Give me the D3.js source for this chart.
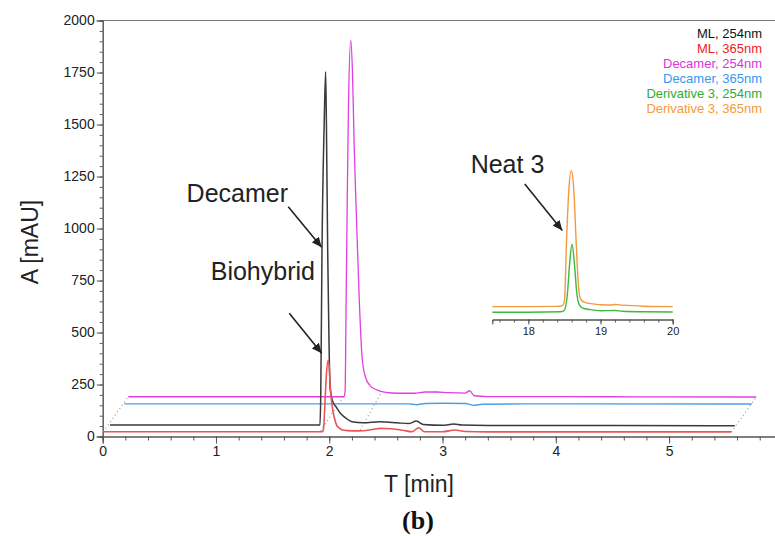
<!DOCTYPE html>
<html>
<head>
<meta charset="utf-8">
<script src="https://cdn.jsdelivr.net/npm/d3@7"></script>
<style>
body { margin: 0; background: #fff; }
svg { display: block; font-family: "Liberation Sans", Arial, sans-serif; }
</style>
</head>
<body>
<div id="chart"></div>
<script>
// traces: [time (min), absorbance (mAU)] as drawn in the waterfall plot
var ml254 = [[0.064,55],[1.918,55],[1.925,200],[1.936,900],[1.955,1500],[1.968,1754],[1.975,1500],[1.986,900],
    [1.998,450],[2.008,230],[2.03,170],[2.06,143],[2.1,111],[2.15,87],[2.2,71],[2.3,66],[2.45,71],[2.6,66],
    [2.7,62],[2.77,74],[2.83,58],[3.0,54],[3.1,60],[3.17,55],[3.4,53],[4.5,53],[5.58,52]];
var ml365 = [[0.005,23],[1.94,23],[1.95,40],[1.962,160],[1.975,300],[1.991,368],[2.0,330],[2.01,230],
    [2.025,150],[2.045,90],[2.065,55],[2.09,40],[2.12,31],[2.2,27],[2.3,28],[2.38,34],[2.45,39],[2.55,37],
    [2.65,30],[2.73,23],[2.79,42],[2.84,23],[3.0,23],[3.11,31],[3.2,24],[3.4,22],[4.5,22],[5.55,22]];
var dec254 = [[0.226,191],[2.13,191],[2.14,220],[2.148,600],[2.158,1100],[2.17,1600],[2.19,1906],[2.205,1750],
    [2.22,1400],[2.235,1137],[2.265,656],[2.29,380],[2.32,285],[2.36,245],[2.42,224],[2.5,212],[2.6,208],[2.75,208],
    [2.85,214],[2.95,214],[3.05,211],[3.2,209],[3.24,220],[3.28,196],[3.4,192],[4.5,191],[5.77,190]];
var dec365 = [[0.19,157],[2.7,157],[2.77,153],[2.85,159],[3.0,160],[3.2,159],[3.28,150],[3.35,155],
    [4.0,157],[5.73,156]];
// inset (Neat 3)
var der254 = [[17.5,35],[18.0,35],[18.45,37],[18.5,45],[18.54,120],[18.57,260],[18.605,362],[18.64,260],
    [18.67,130],[18.7,75],[18.75,55],[18.85,48],[19.0,42],[19.2,43],[19.3,40],[19.6,37],[20.0,36]];
var der365 = [[17.5,62],[18.0,62],[18.4,63],[18.47,67],[18.5,90],[18.53,390],[18.56,620],[18.595,715],
    [18.63,620],[18.66,390],[18.69,180],[18.72,100],[18.78,82],[18.9,75],[19.0,71],[19.15,70],[19.2,72],
    [19.3,69],[19.6,64],[20.0,62]];

var legendNames = ["ML, 254nm", "ML, 365nm", "Decamer, 254nm", "Decamer, 365nm",
    "Derivative 3, 254nm", "Derivative 3, 365nm"];
var xTicks = [0, 1, 2, 3, 4, 5];
var yTicks = [0, 250, 500, 750, 1000, 1250, 1500, 1750, 2000];
var insetTicks = [18, 19, 20];

// dotted connectors between the stacked traces
var connectors = [
    [[0.005,23],[0.226,191]],
    [[1.924,27],[2.124,190]],
    [[2.273,31],[2.457,209]],
    [[5.55,22],[5.77,190]]
];

var legendColors = ["#111111", "#ee2222", "#dd33dd", "#3399ee", "#33aa33", "#f59a3c"];

var W = 775, H = 536;
var svg = d3.select("#chart").append("svg").attr("width", W).attr("height", H);

var x = d3.scaleLinear().domain([0, 5.935]).range([102.7, 775]);
var y = d3.scaleLinear().domain([0, 2000]).range([436.5, 20.5]);
var xi = d3.scaleLinear().domain([17.5, 20]).range([492.3, 672.7]);
var yi = d3.scaleLinear().domain([0, 750]).range([319.5, 163.5]);

var axisColor = "#555";

// frame top line
svg.append("line")
    .attr("x1", x(0)).attr("x2", W)
    .attr("y1", y(2000)).attr("y2", y(2000))
    .attr("stroke", "#777").attr("stroke-width", 1);

// x axis
var xMinor = svg.append("g").attr("transform", "translate(0," + y(0) + ")")
    .call(d3.axisBottom(x).tickValues(d3.range(0, 5.9, 0.2)).tickSize(4).tickFormat(""));
var xAxis = svg.append("g").attr("transform", "translate(0," + y(0) + ")")
    .call(d3.axisBottom(x).tickValues(xTicks).tickSize(7).tickPadding(3).tickFormat(d3.format("d")));
[xMinor, xAxis].forEach(function(g){
    g.select(".domain").attr("stroke", axisColor);
    g.selectAll(".tick line").attr("stroke", axisColor);
});
xAxis.selectAll("text").attr("font-size", 14).attr("fill", "#222")
    .attr("font-family", "Liberation Sans, Arial, sans-serif");

// y axis
var yMinor = svg.append("g").attr("transform", "translate(" + x(0) + ",0)")
    .call(d3.axisLeft(y).tickValues(d3.range(0, 2001, 50)).tickSize(3).tickFormat(""));
var yAxis = svg.append("g").attr("transform", "translate(" + x(0) + ",0)")
    .call(d3.axisLeft(y).tickValues(yTicks).tickSize(6).tickPadding(2).tickFormat(d3.format("d")));
[yMinor, yAxis].forEach(function(g){
    g.select(".domain").attr("stroke", axisColor);
    g.selectAll(".tick line").attr("stroke", axisColor);
});
yAxis.selectAll("text").attr("font-size", 14).attr("fill", "#222")
    .attr("font-family", "Liberation Sans, Arial, sans-serif");

// axis titles
svg.append("text")
    .attr("x", 419).attr("y", 492)
    .attr("text-anchor", "middle")
    .attr("font-size", 23).attr("fill", "#222")
    .text("T [min]");
svg.append("text")
    .attr("transform", "translate(38,242) rotate(-90)")
    .attr("text-anchor", "middle")
    .attr("font-size", 23).attr("fill", "#222")
    .text("A [mAU]");
svg.append("text")
    .attr("x", 418).attr("y", 529)
    .attr("text-anchor", "middle")
    .attr("font-size", 26).attr("font-weight", "bold")
    .attr("font-family", "Liberation Serif, Times New Roman, serif")
    .attr("fill", "#111")
    .text("(b)");

// dotted connectors
var straight = d3.line()
    .x(function(d) { return x(d[0]); })
    .y(function(d) { return y(d[1]); });
var line = d3.line()
    .curve(d3.curveMonotoneX)
    .x(function(d) { return x(d[0]); })
    .y(function(d) { return y(d[1]); });

connectors.forEach(function(c){
    svg.append("path")
        .attr("d", straight(c))
        .attr("fill", "none")
        .attr("stroke", "#999")
        .attr("stroke-width", 1.2)
        .attr("stroke-dasharray", "1,3");
});

// traces, back to front
var traces = [
    {data: dec254, color: "#e03fe0", w: 1.3},
    {data: dec365, color: "#4d9ee6", w: 1.4},
    {data: ml254, color: "#3a3a3a", w: 1.5},
    {data: ml365, color: "#e85656", w: 1.6}
];
traces.forEach(function(t){
    svg.append("path")
        .attr("d", line(t.data))
        .attr("fill", "none")
        .attr("stroke", t.color)
        .attr("stroke-width", t.w)
        .attr("stroke-linejoin", "round");
});

// inset
var insetLine = d3.line()
    .curve(d3.curveMonotoneX)
    .x(function(d) { return xi(d[0]); })
    .y(function(d) { return yi(d[1]); });

var iMinor = svg.append("g").attr("transform", "translate(0," + yi(0) + ")")
    .call(d3.axisBottom(xi).tickValues(d3.range(17.6, 20.01, 0.2)).tickSize(3).tickFormat(""));
var iAxis = svg.append("g").attr("transform", "translate(0," + yi(0) + ")")
    .call(d3.axisBottom(xi).tickValues(insetTicks).tickSize(5).tickPadding(3).tickFormat(d3.format("d")));
[iMinor, iAxis].forEach(function(g){
    g.select(".domain").attr("stroke", axisColor);
    g.selectAll(".tick line").attr("stroke", axisColor);
});
iAxis.selectAll("text").attr("font-size", 11).attr("fill", "#222")
    .attr("font-family", "Liberation Sans, Arial, sans-serif");

svg.append("path").attr("d", insetLine(der365))
    .attr("fill", "none").attr("stroke", "#f29a40").attr("stroke-width", 1.4);
svg.append("path").attr("d", insetLine(der254))
    .attr("fill", "none").attr("stroke", "#3cba3c").attr("stroke-width", 1.4);

// annotations with arrows
svg.append("defs").append("marker")
    .attr("id", "arrow")
    .attr("viewBox", "0 0 10 10")
    .attr("refX", 10).attr("refY", 5)
    .attr("markerWidth", 10).attr("markerHeight", 10)
    .attr("markerUnits", "userSpaceOnUse")
    .attr("orient", "auto")
    .append("path").attr("d", "M0,0.5L10,5L0,9.5z").attr("fill", "#222");

function arrow(x1, y1, x2, y2){
    svg.append("line")
        .attr("x1", x1).attr("y1", y1).attr("x2", x2).attr("y2", y2)
        .attr("stroke", "#222").attr("stroke-width", 1.6)
        .attr("marker-end", "url(#arrow)");
}
function label(px, py, txt, anchor){
    svg.append("text")
        .attr("x", px).attr("y", py)
        .attr("text-anchor", anchor)
        .attr("font-size", 25).attr("fill", "#222")
        .text(txt);
}

label(x(1.636), y(1129), "Decamer", "end");
arrow(x(1.638), y(1105), x(1.933), y(910));
label(x(1.874), y(752), "Biohybrid", "end");
arrow(x(1.647), y(592), x(1.933), y(400));
label(xi(17.2), yi(704), "Neat 3", "start");
arrow(xi(17.95), yi(651), xi(18.47), yi(428));

// legend
var legend = svg.append("g");
legendNames.forEach(function(n, i){
    legend.append("text")
        .attr("x", 762)
        .attr("y", 38 + i * 15)
        .attr("text-anchor", "end")
        .attr("font-size", 13)
        .attr("fill", legendColors[i])
        .text(n);
});
</script>
</body>
</html>
